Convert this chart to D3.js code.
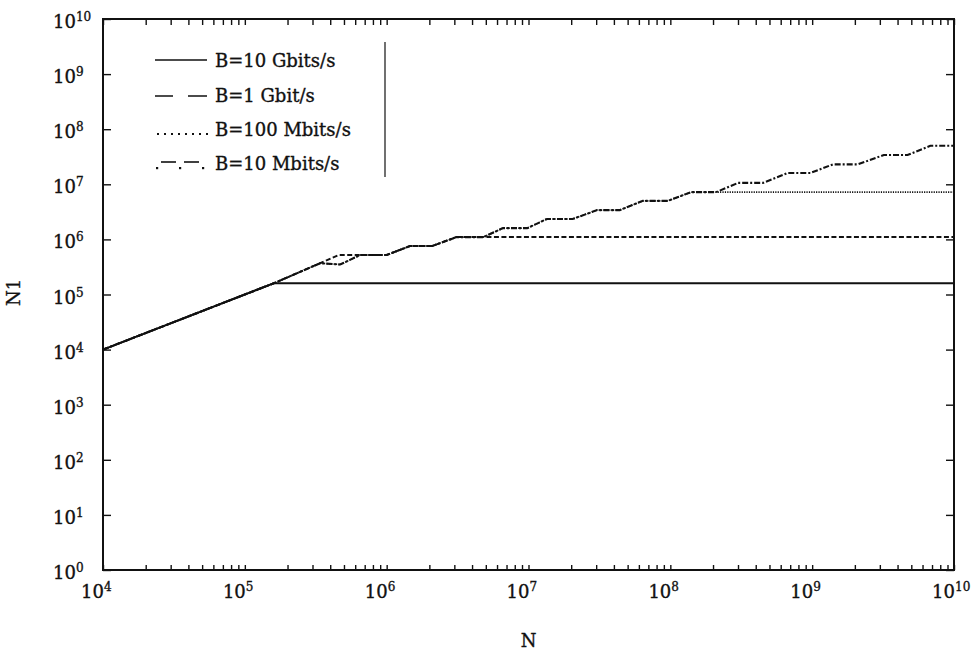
<!DOCTYPE html>
<html>
<head>
<meta charset="utf-8">
<script src="https://cdn.jsdelivr.net/npm/d3@7"></script>
<style>
  html, body { margin: 0; padding: 0; background: #fff; }
  svg { display: block; }
  text { font-family: "DejaVu Serif", "Liberation Serif", serif; fill: #111; stroke: #111; stroke-width: 0.35px; }
</style>
</head>
<body>
<svg id="chart" width="975" height="650"></svg>
<script>
// Number of nodes N versus N1, for four link bandwidths.
const legendLabels = ["B=10 Gbits/s", "B=1 Gbit/s", "B=100 Mbits/s", "B=10 Mbits/s"];

// [N, N1] vertices of each curve
const b10G = [[1e4, 1e4], [1.6e5, 1.6e5], [1e10, 1.6e5]];

const b1G = [
  [1e4, 1e4], [1.6e5, 1.6e5], [3.4e5, 3.7e5], [4.6e5, 5.2e5], [1.0e6, 5.2e5],
  [1.46e6, 7.6e5], [2.1e6, 7.6e5], [3.1e6, 1.1e6], [1e10, 1.1e6]
];

const b100M = [
  [1e4, 1e4], [1.6e5, 1.6e5], [3.4e5, 3.7e5], [4.7e5, 3.5e5], [6.5e5, 5.2e5],
  [1.0e6, 5.2e5], [1.46e6, 7.6e5], [2.1e6, 7.6e5], [3.1e6, 1.1e6], [4.8e6, 1.1e6],
  [6.6e6, 1.6e6], [9.8e6, 1.6e6], [1.35e7, 2.35e6], [2.05e7, 2.35e6], [3.05e7, 3.4e6],
  [4.4e7, 3.4e6], [6.4e7, 5.0e6], [9.6e7, 5.0e6], [1.4e8, 7.2e6], [1e10, 7.2e6]
];

const b10M = [
  [1e4, 1e4], [1.6e5, 1.6e5], [3.4e5, 3.7e5], [4.7e5, 3.5e5], [6.5e5, 5.2e5],
  [1.0e6, 5.2e5], [1.46e6, 7.6e5], [2.1e6, 7.6e5], [3.1e6, 1.1e6], [4.8e6, 1.1e6],
  [6.6e6, 1.6e6], [9.8e6, 1.6e6], [1.35e7, 2.35e6], [2.05e7, 2.35e6], [3.05e7, 3.4e6],
  [4.4e7, 3.4e6], [6.4e7, 5.0e6], [9.6e7, 5.0e6], [1.4e8, 7.2e6], [2.1e8, 7.2e6],
  [3.0e8, 1.06e7], [4.5e8, 1.06e7], [6.7e8, 1.6e7], [9.7e8, 1.6e7], [1.4e9, 2.3e7],
  [2.1e9, 2.3e7], [3.2e9, 3.4e7], [4.7e9, 3.4e7], [6.8e9, 5.0e7], [1e10, 5.0e7]
];

// decade exponents used for tick labels
const xTickExponents = [4, 5, 6, 7, 8, 9, 10];
const yTickExponents = [0, 1, 2, 3, 4, 5, 6, 7, 8, 9, 10];

const svg = d3.select("#chart");
const plot = { left: 103, right: 954, top: 19, bottom: 570 };

const x = d3.scaleLog().domain([1e4, 1e10]).range([plot.left, plot.right]);
const y = d3.scaleLog().domain([1, 1e10]).range([plot.bottom, plot.top]);

// minor ticks 1..9 per decade along N
const xMinor = [];
xTickExponents.forEach(e => {
  for (let m = 1; m <= 9; m++) {
    const v = m * Math.pow(10, e);
    if (v >= 1e4 && v <= 1e10) xMinor.push(v);
  }
});
const yMajor = yTickExponents.map(e => Math.pow(10, e));

function styleAxis(g) {
  g.select(".domain").remove();
  g.selectAll(".tick line").attr("stroke", "#111").attr("stroke-width", 1.4);
}

svg.append("g").attr("transform", `translate(0,${plot.bottom})`)
  .call(d3.axisBottom(x).tickValues(xMinor).tickSize(-5).tickFormat(""))
  .call(styleAxis);
svg.append("g").attr("transform", `translate(0,${plot.top})`)
  .call(d3.axisTop(x).tickValues(xMinor).tickSize(-6).tickFormat(""))
  .call(styleAxis);
svg.append("g").attr("transform", `translate(${plot.left},0)`)
  .call(d3.axisLeft(y).tickValues(yMajor).tickSize(-8).tickFormat(""))
  .call(styleAxis);
svg.append("g").attr("transform", `translate(${plot.right},0)`)
  .call(d3.axisRight(y).tickValues(yMajor).tickSize(-8).tickFormat(""))
  .call(styleAxis);

// frame
svg.append("rect")
  .attr("x", plot.left).attr("y", plot.top)
  .attr("width", plot.right - plot.left).attr("height", plot.bottom - plot.top)
  .attr("fill", "none").attr("stroke", "#111").attr("stroke-width", 2);

// y tick labels: 10 with superscript exponent
yTickExponents.forEach(e => {
  const t = svg.append("text")
    .attr("x", 53).attr("y", y(Math.pow(10, e)) + 9)
    .attr("font-size", 18);
  t.append("tspan").text("10");
  t.append("tspan").attr("dy", -7).attr("font-size", 12).text(e);
});

// x tick labels: base ends at the tick, exponent follows
xTickExponents.forEach(e => {
  const t = svg.append("text")
    .attr("y", 598)
    .attr("font-size", 18);
  const base = t.append("tspan").text("10");
  t.append("tspan").attr("dy", -7).attr("font-size", 12).text(e);
  const w = base.node().getComputedTextLength();
  t.attr("x", x(Math.pow(10, e)) - w + 1);
});

// axis titles
svg.append("text")
  .attr("x", (plot.left + plot.right) / 2).attr("y", 647)
  .attr("text-anchor", "middle").attr("font-size", 18)
  .text("N");
svg.append("text")
  .attr("transform", `translate(20,${(plot.top + plot.bottom) / 2 - 2}) rotate(-90)`)
  .attr("text-anchor", "middle").attr("font-size", 18)
  .text("N1");

// curves
const line = d3.line().x(d => x(d[0])).y(d => y(d[1]));
const curves = [
  { data: b10G, dash: null, width: 2 },
  { data: b1G, dash: "5,2.5", width: 2 },
  { data: b100M, dash: "1.2,1.2", width: 1.6 },
  { data: b10M, dash: "6,2,2,2", width: 2.1 }
];
svg.append("g").selectAll("path")
  .data(curves)
  .join("path")
  .attr("d", d => line(d.data))
  .attr("fill", "none")
  .attr("stroke", "#111")
  .attr("stroke-width", d => d.width)
  .attr("stroke-dasharray", d => d.dash);

// legend
const lg = svg.append("g");
const rowBase = [67, 102, 136, 170];
legendLabels.forEach((lab, i) => {
  lg.append("text").attr("x", 215).attr("y", rowBase[i])
    .attr("font-size", 18).text(lab);
});
// solid sample
lg.append("line").attr("x1", 155).attr("x2", 207).attr("y1", 60).attr("y2", 60)
  .attr("stroke", "#111").attr("stroke-width", 1.6);
// dashed sample
lg.append("line").attr("x1", 155).attr("x2", 207).attr("y1", 96).attr("y2", 96)
  .attr("stroke", "#111").attr("stroke-width", 1.6).attr("stroke-dasharray", "18,15,20");
// dotted sample
lg.append("line").attr("x1", 157).attr("x2", 208).attr("y1", 134).attr("y2", 134)
  .attr("stroke", "#111").attr("stroke-width", 2).attr("stroke-dasharray", "2,5");
// dash-dot sample: dots on the baseline, dashes raised
[157, 180, 203].forEach(cx => {
  lg.append("rect").attr("x", cx - 1).attr("y", 167).attr("width", 2.2).attr("height", 2.2).attr("fill", "#111");
});
[[161, 176], [184, 199]].forEach(([a, b]) => {
  lg.append("line").attr("x1", a).attr("x2", b).attr("y1", 162).attr("y2", 162)
    .attr("stroke", "#111").attr("stroke-width", 1.6);
});
// divider bar right of the legend
lg.append("line").attr("x1", 385).attr("x2", 385).attr("y1", 42).attr("y2", 177)
  .attr("stroke", "#111").attr("stroke-width", 1.2);
</script>
</body>
</html>
